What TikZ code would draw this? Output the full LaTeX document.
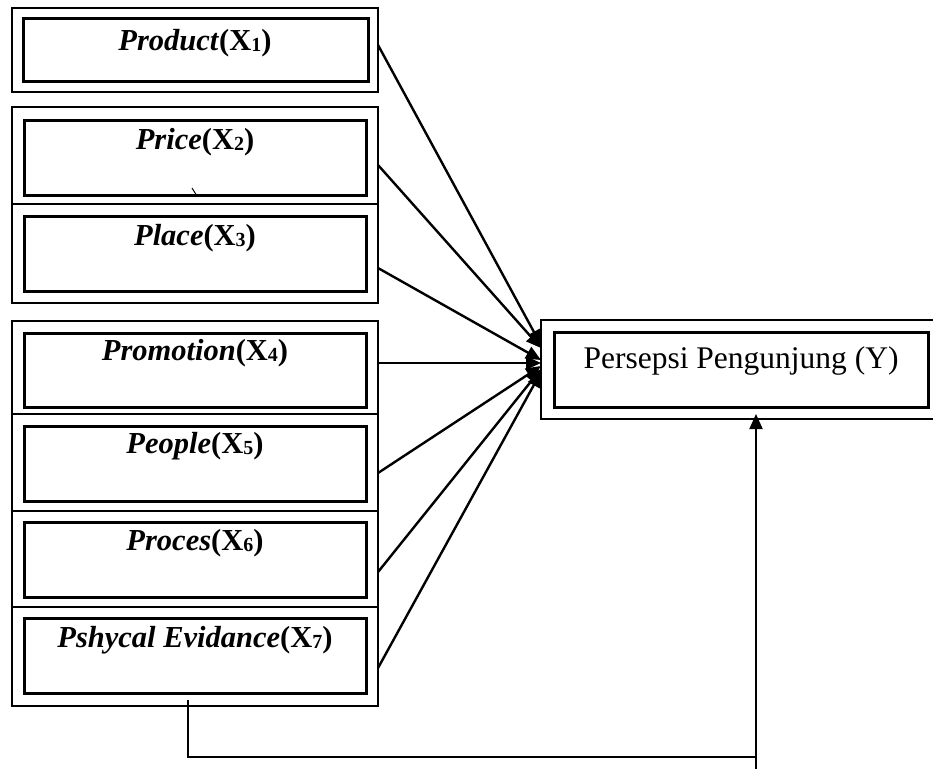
\documentclass[tikz,border=0pt]{standalone}
\usepackage{fontspec}
\setmainfont{Liberation Serif}
\usetikzlibrary{arrows.meta}
\newcommand{\sbx}[1]{\raisebox{-1.5pt}{\fontsize{20}{20}\selectfont #1}}
\newcommand{\lbl}[2]{\textbf{\textit{#1}(X\sbx{#2})}}
\begin{document}
\begin{tikzpicture}[x=1pt,y=-1pt,
  frame/.style={draw, line width=2.6pt, inner sep=0pt, outer sep=0pt, anchor=north west},
  inbox/.style={draw, line width=3pt, inner sep=0pt, outer sep=0pt, anchor=north west},
  lab/.style={anchor=base, inner sep=0pt, font=\fontsize{30.5}{32}\selectfont},
  conn/.style={line width=2.4pt, -{Triangle[length=15pt,width=13pt]}},
  fb/.style={line width=2pt}]
\useasboundingbox (0,0) rectangle (933,769);
% group frames
\node[frame, minimum width=366pt, minimum height=84pt] (g1) at (12,8) {};
\node[frame, minimum width=366pt, minimum height=196pt] (g2) at (12,107) {};
\node[frame, minimum width=366pt, minimum height=385pt] (g3) at (12,321) {};
\draw[line width=2.6pt] (12,204) -- (378,204);
\draw[line width=2.6pt] (12,414) -- (378,414);
\draw[line width=2.6pt] (12,511) -- (378,511);
\draw[line width=2.6pt] (12,607) -- (378,607);
% inner boxes
\node[inbox, minimum width=345pt, minimum height=63pt] (x1) at (23,18) {};
\node[inbox, minimum width=342pt, minimum height=75pt] (x2) at (24,120) {};
\node[inbox, minimum width=342pt, minimum height=75pt] (x3) at (24,216) {};
\node[inbox, minimum width=342pt, minimum height=74pt] (x4) at (24,333) {};
\node[inbox, minimum width=342pt, minimum height=75pt] (x5) at (24,426) {};
\node[inbox, minimum width=342pt, minimum height=75pt] (x6) at (24,522) {};
\node[inbox, minimum width=342pt, minimum height=75pt] (x7) at (24,618) {};
% labels
\node[lab] (t1) at (195,50) {\lbl{Product}{1}};
\node[lab] (t2) at (195,149) {\lbl{Price}{2}};
\node[lab] (t3) at (195,245) {\lbl{Place}{3}};
\node[lab] (t4) at (195,360) {\lbl{Promotion}{4}};
\node[lab] (t5) at (195,453) {\lbl{People}{5}};
\node[lab] (t6) at (195,550) {\lbl{Proces}{6}};
\node[lab] (t7) at (195,647) {\lbl{Pshycal Evidance}{7}};
% stray tick
\draw[line width=1pt] (192,188) -- (197,196);
% Y box
\node[frame, minimum width=395pt, minimum height=99pt] (yo) at (541,320) {};
\node[inbox, minimum width=374pt, minimum height=75pt] (yi) at (554,332) {};
\node[anchor=base, inner sep=0pt, font=\fontsize{31.5}{33}\selectfont] (ty) at (741,368) {Persepsi Pengunjung (Y)};
% connector points
\coordinate (s1) at (378,45);
\coordinate (s2) at (378,165);
\coordinate (s3) at (378,268);
\coordinate (s4) at (378,363);
\coordinate (s5) at (378,473);
\coordinate (s6) at (378,572);
\coordinate (s7) at (378,668);
\coordinate (e1) at (541,345);
\coordinate (e2) at (541,348);
\coordinate (e3) at (541,360);
\coordinate (e4) at (541,363);
\coordinate (e5) at (541,366);
\coordinate (e6) at (541,369);
\coordinate (e7) at (541,372);
\foreach \i in {1,...,7} {\draw[conn] (s\i) -- (e\i);}
% feedback
\coordinate (f0) at (188,700);
\coordinate (f1) at (756,757);
\coordinate (f2) at (756,769);
\coordinate (f3) at (756,414);
\draw[fb] (f0) |- (f1);
\draw[fb, -{Triangle[length=15pt,width=13pt]}] (f2) -- (f3);
\end{tikzpicture}
\end{document}
